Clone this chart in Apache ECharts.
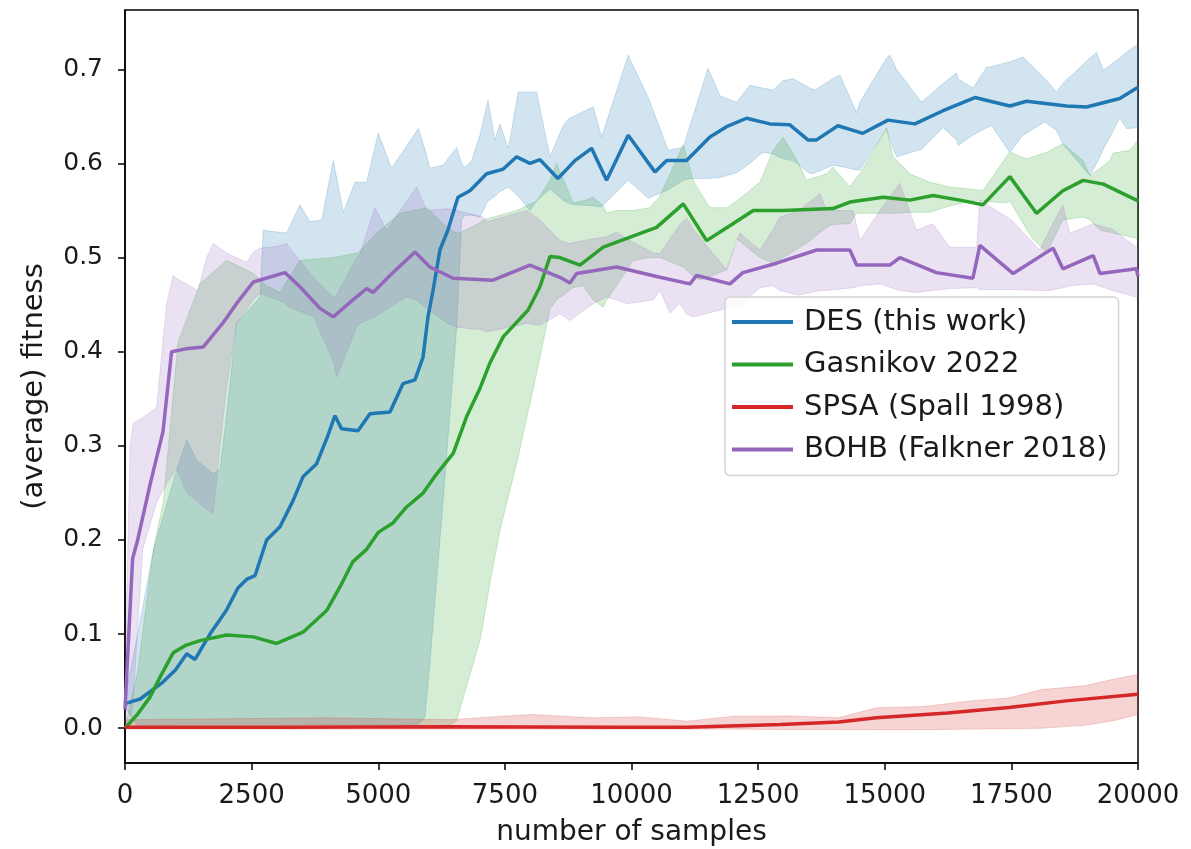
<!DOCTYPE html>
<html>
<head>
<meta charset="utf-8">
<script src="https://cdn.jsdelivr.net/npm/echarts@6/dist/echarts.min.js"></script>
<style>
  html, body { margin: 0; padding: 0; background: #fff; }
  #chart { width: 1191px; height: 849px; }
</style>
</head>
<body>
<div id="chart"></div>
<script>
// ---- axis ticks ----
const xTicks = [0, 2500, 5000, 7500, 10000, 12500, 15000, 17500, 20000];
const yTicks = [0.0, 0.1, 0.2, 0.3, 0.4, 0.5, 0.6, 0.7];

// ---- series names ----
const names = ['DES (this work)', 'Gasnikov 2022', 'SPSA (Spall 1998)', 'BOHB (Falkner 2018)'];

// ---- DES: mean curve ----
const desX = [0, 300, 750, 1000, 1218, 1382, 1678, 2000, 2230, 2400, 2566, 2797, 3060, 3320, 3514, 3784, 4000, 4145, 4277, 4600, 4836, 5231, 5488, 5725, 5883, 5982, 6081, 6218, 6380, 6574, 6810, 7140, 7469, 7732, 7995, 8192, 8547, 8883, 9212, 9508, 9935, 10462, 10693, 11088, 11548, 11877, 12272, 12732, 13127, 13483, 13654, 14075, 14569, 15063, 15595, 16150, 16780, 17470, 17800, 18590, 18985, 19640, 20000];
const desMean = [0.026, 0.031, 0.049, 0.062, 0.079, 0.073, 0.100, 0.125, 0.149, 0.158, 0.162, 0.200, 0.214, 0.242, 0.267, 0.281, 0.310, 0.332, 0.318, 0.316, 0.334, 0.336, 0.366, 0.370, 0.394, 0.437, 0.465, 0.508, 0.530, 0.564, 0.571, 0.589, 0.594, 0.607, 0.600, 0.604, 0.584, 0.603, 0.616, 0.582, 0.630, 0.591, 0.603, 0.603, 0.628, 0.639, 0.648, 0.642, 0.641, 0.625, 0.625, 0.640, 0.632, 0.646, 0.642, 0.656, 0.670, 0.661, 0.666, 0.661, 0.660, 0.669, 0.681];

// ---- DES: spread band ----
const desBandX = [0, 250, 560, 1020, 1218, 1415, 1744, 1875, 2000, 2200, 2665, 2730, 3191, 3455, 3652, 3883, 4112, 4310, 4540, 4770, 5000, 5264, 5790, 5922, 6020, 6280, 6548, 6646, 6712, 6843, 7008, 7166, 7304, 7403, 7568, 7765, 7995, 8127, 8390, 8650, 8752, 8850, 9245, 9410, 9935, 10330, 10725, 11022, 11153, 11511, 11745, 12075, 12338, 12594, 12798, 12995, 13193, 13522, 13621, 13976, 14115, 14444, 14509, 15036, 15101, 15233, 15727, 16150, 16418, 16444, 16740, 17010, 17108, 17470, 17730, 18160, 18392, 18516, 19049, 19182, 19315, 19640, 19773, 20000];
const desLow = [0.022, 0.003, 0.003, 0.004, 0.004, 0.004, 0.004, 0.004, 0.004, 0.004, 0.004, 0.004, 0.004, 0.004, 0.004, 0.004, 0.004, 0.004, 0.004, 0.004, 0.004, 0.004, 0.004, 0.012, 0.070, 0.242, 0.426, 0.540, 0.545, 0.545, 0.543, 0.560, 0.565, 0.570, 0.575, 0.565, 0.550, 0.560, 0.573, 0.561, 0.558, 0.556, 0.555, 0.554, 0.582, 0.563, 0.572, 0.582, 0.584, 0.584, 0.585, 0.590, 0.600, 0.612, 0.610, 0.605, 0.603, 0.589, 0.590, 0.598, 0.597, 0.593, 0.593, 0.637, 0.625, 0.607, 0.615, 0.638, 0.625, 0.619, 0.630, 0.638, 0.640, 0.612, 0.630, 0.644, 0.635, 0.621, 0.587, 0.600, 0.615, 0.648, 0.637, 0.638];
const desHigh = [0.032, 0.100, 0.189, 0.274, 0.306, 0.285, 0.270, 0.275, 0.330, 0.430, 0.458, 0.529, 0.526, 0.556, 0.538, 0.540, 0.603, 0.548, 0.580, 0.580, 0.632, 0.595, 0.637, 0.615, 0.595, 0.598, 0.617, 0.600, 0.596, 0.603, 0.630, 0.667, 0.625, 0.642, 0.616, 0.676, 0.676, 0.676, 0.607, 0.640, 0.647, 0.650, 0.660, 0.628, 0.715, 0.670, 0.614, 0.617, 0.640, 0.701, 0.672, 0.665, 0.683, 0.680, 0.678, 0.688, 0.690, 0.680, 0.678, 0.690, 0.694, 0.654, 0.665, 0.712, 0.715, 0.700, 0.665, 0.685, 0.696, 0.690, 0.680, 0.702, 0.703, 0.708, 0.713, 0.690, 0.676, 0.685, 0.712, 0.718, 0.699, 0.712, 0.718, 0.727];

// ---- Gasnikov 2022: mean curve ----
const gasX = [0, 250, 493, 700, 950, 1200, 1480, 2007, 2533, 2994, 3514, 3981, 4244, 4500, 4770, 5000, 5290, 5560, 5890, 6150, 6480, 6745, 7000, 7205, 7469, 7956, 8192, 8390, 8587, 8982, 9442, 10495, 11022, 11483, 12002, 12404, 12995, 13976, 14312, 14970, 15496, 15950, 16483, 16937, 17470, 17996, 18516, 18918, 19315, 19970, 20000];
const gasMean = [0.000, 0.015, 0.033, 0.055, 0.080, 0.088, 0.093, 0.099, 0.097, 0.090, 0.102, 0.125, 0.150, 0.177, 0.190, 0.208, 0.218, 0.235, 0.250, 0.270, 0.292, 0.331, 0.360, 0.388, 0.416, 0.444, 0.469, 0.501, 0.500, 0.492, 0.511, 0.532, 0.557, 0.518, 0.536, 0.550, 0.550, 0.552, 0.559, 0.564, 0.561, 0.566, 0.561, 0.556, 0.586, 0.547, 0.571, 0.582, 0.578, 0.561, 0.560];

// ---- Gasnikov 2022: spread band ----
const gasBandX = [0, 250, 560, 757, 1046, 1480, 2007, 2533, 2800, 3060, 3455, 4112, 4600, 4968, 5428, 5956, 6400, 6548, 6613, 7008, 7067, 7205, 7403, 7732, 8127, 8390, 8520, 8850, 9041, 9245, 9442, 9508, 9705, 10033, 10364, 10561, 11022, 11219, 11350, 11548, 11877, 12075, 12535, 12798, 12995, 13300, 13450, 13852, 13976, 14312, 14440, 14509, 15036, 15167, 15496, 15891, 16286, 16813, 16937, 17400, 17470, 17800, 17925, 18200, 18516, 18918, 19049, 19250, 19443, 19510, 19843, 20000];
const gasLow = [0.000, 0.001, 0.002, 0.002, 0.002, 0.002, 0.002, 0.002, 0.002, 0.002, 0.002, 0.002, 0.002, 0.002, 0.002, 0.002, 0.003, 0.008, 0.020, 0.093, 0.110, 0.154, 0.210, 0.281, 0.377, 0.445, 0.455, 0.468, 0.470, 0.455, 0.447, 0.455, 0.470, 0.497, 0.500, 0.500, 0.490, 0.480, 0.476, 0.480, 0.487, 0.520, 0.500, 0.494, 0.500, 0.510, 0.515, 0.532, 0.535, 0.536, 0.547, 0.547, 0.547, 0.547, 0.548, 0.548, 0.555, 0.561, 0.560, 0.558, 0.560, 0.530, 0.520, 0.505, 0.540, 0.543, 0.540, 0.529, 0.527, 0.526, 0.522, 0.520];
const gasHigh = [0.000, 0.060, 0.190, 0.240, 0.410, 0.472, 0.497, 0.483, 0.470, 0.463, 0.497, 0.500, 0.505, 0.526, 0.547, 0.553, 0.530, 0.526, 0.526, 0.537, 0.540, 0.542, 0.545, 0.550, 0.560, 0.582, 0.600, 0.558, 0.560, 0.564, 0.555, 0.547, 0.550, 0.550, 0.553, 0.565, 0.620, 0.582, 0.570, 0.553, 0.553, 0.560, 0.580, 0.614, 0.628, 0.600, 0.582, 0.589, 0.596, 0.575, 0.585, 0.589, 0.637, 0.607, 0.589, 0.580, 0.575, 0.572, 0.571, 0.607, 0.612, 0.605, 0.607, 0.612, 0.621, 0.603, 0.587, 0.595, 0.603, 0.611, 0.614, 0.625];

// ---- SPSA (Spall 1998): mean curve ----
const spsaX = [0, 3000, 6416, 9705, 11094, 12950, 14088, 14835, 16238, 17450, 18580, 20000];
const spsaMean = [0.001, 0.001, 0.0014, 0.001, 0.001, 0.004, 0.0066, 0.011, 0.016, 0.022, 0.029, 0.036];

// ---- SPSA (Spall 1998): spread band ----
const spsaBandX = [0, 2000, 4000, 6416, 8007, 9219, 10158, 11094, 12022, 13150, 14088, 14835, 15770, 16700, 17450, 18100, 18950, 19510, 20000];
const spsaLow = [-0.001, -0.001, -0.001, -0.001, -0.001, -0.001, -0.001, -0.001, -0.001, -0.0015, -0.0015, -0.0016, -0.0016, -0.001, -0.0005, 0.000, 0.003, 0.008, 0.0145];
const spsaHigh = [0.009, 0.010, 0.011, 0.009, 0.0145, 0.011, 0.012, 0.0074, 0.0127, 0.013, 0.011, 0.0216, 0.023, 0.029, 0.032, 0.041, 0.045, 0.052, 0.057];

// ---- BOHB (Falkner 2018): mean curve ----
const bohbX = [0, 150, 250, 500, 750, 920, 1200, 1546, 1940, 2200, 2533, 3158, 3455, 3850, 4112, 4500, 4770, 4900, 5290, 5725, 6020, 6480, 7265, 7995, 8587, 8784, 8916, 9705, 10561, 11153, 11285, 11943, 12200, 12864, 13654, 14312, 14444, 15101, 15298, 16020, 16740, 16878, 17535, 18325, 18516, 19116, 19250, 19970, 20000];
const bohbMean = [0.020, 0.180, 0.200, 0.260, 0.315, 0.400, 0.403, 0.405, 0.431, 0.451, 0.474, 0.484, 0.469, 0.446, 0.437, 0.455, 0.467, 0.463, 0.484, 0.506, 0.490, 0.478, 0.476, 0.492, 0.479, 0.473, 0.483, 0.490, 0.479, 0.472, 0.481, 0.472, 0.484, 0.494, 0.508, 0.508, 0.492, 0.492, 0.500, 0.484, 0.478, 0.513, 0.483, 0.510, 0.488, 0.502, 0.483, 0.488, 0.480];

// ---- BOHB (Falkner 2018): spread band ----
const bohbBandX = [0, 100, 160, 350, 625, 823, 950, 1020, 1218, 1440, 1612, 1744, 1875, 2000, 2200, 2400, 2533, 2665, 3020, 3191, 3257, 3717, 4112, 4178, 4573, 4638, 4935, 5165, 5560, 5758, 5956, 6377, 6548, 7067, 7140, 7930, 8192, 8587, 8784, 9245, 9508, 9705, 9903, 10428, 10561, 10758, 10956, 11088, 11219, 11877, 12140, 12535, 12798, 12930, 13300, 13720, 13852, 14378, 14509, 14904, 15298, 15627, 15950, 16286, 16813, 16878, 17500, 18063, 18260, 18516, 18655, 19116, 19500, 19970, 20000];
const bohbLow = [0.000, 0.000, 0.030, 0.190, 0.240, 0.260, 0.270, 0.276, 0.250, 0.240, 0.233, 0.228, 0.300, 0.360, 0.430, 0.445, 0.455, 0.462, 0.455, 0.450, 0.447, 0.437, 0.390, 0.373, 0.426, 0.430, 0.437, 0.445, 0.458, 0.455, 0.446, 0.430, 0.426, 0.423, 0.421, 0.430, 0.428, 0.440, 0.433, 0.451, 0.458, 0.455, 0.451, 0.455, 0.465, 0.441, 0.451, 0.440, 0.437, 0.446, 0.450, 0.468, 0.470, 0.465, 0.460, 0.465, 0.465, 0.468, 0.470, 0.472, 0.465, 0.463, 0.465, 0.467, 0.468, 0.466, 0.466, 0.465, 0.465, 0.468, 0.470, 0.472, 0.465, 0.458, 0.458];
const bohbHigh = [0.050, 0.300, 0.324, 0.330, 0.341, 0.451, 0.481, 0.478, 0.472, 0.465, 0.500, 0.515, 0.510, 0.505, 0.500, 0.495, 0.506, 0.510, 0.512, 0.515, 0.510, 0.479, 0.458, 0.460, 0.500, 0.504, 0.553, 0.529, 0.560, 0.575, 0.550, 0.552, 0.550, 0.543, 0.538, 0.550, 0.540, 0.518, 0.515, 0.520, 0.522, 0.527, 0.520, 0.505, 0.504, 0.520, 0.535, 0.542, 0.530, 0.487, 0.526, 0.508, 0.530, 0.543, 0.550, 0.568, 0.550, 0.550, 0.518, 0.550, 0.579, 0.529, 0.536, 0.511, 0.511, 0.561, 0.540, 0.508, 0.530, 0.556, 0.526, 0.536, 0.530, 0.511, 0.510];

// ---- colours (matplotlib tab10) ----
const colors = ['#1f77b4', '#2ca02c', '#d62728', '#9467bd'];
const fills  = ['rgba(31,119,180,0.2)', 'rgba(44,160,44,0.2)', 'rgba(214,39,40,0.2)', 'rgba(148,103,189,0.2)'];

const FONT = 'DejaVu Sans';

// Polygon between the lower and upper bound of a run, placed with the axis scales.
function bandSeries(id, xs, lo, hi, fill) {
  return {
    type: 'custom',
    id: id,
    name: id,
    silent: true,
    clip: true,
    z: 1,
    data: xs.map((x, i) => [x, lo[i], hi[i]]),
    encode: { x: 0, y: [1, 2] },
    renderItem: function (params, api) {
      if (params.dataIndex !== 0) return null;
      const pts = [];
      for (let i = 0; i < xs.length; i++) pts.push(api.coord([xs[i], hi[i]]));
      for (let i = xs.length - 1; i >= 0; i--) pts.push(api.coord([xs[i], lo[i]]));
      return {
        type: 'polygon',
        shape: { points: pts },
        style: { fill: fill, stroke: fill, lineWidth: 1 }
      };
    }
  };
}

function lineSeries(name, xs, ys, color, z) {
  return {
    type: 'line',
    name: name,
    data: xs.map((x, i) => [x, ys[i]]),
    showSymbol: false,
    symbol: 'none',
    smooth: false,
    z: z,
    lineStyle: { color: color, width: 3.5 },
    itemStyle: { color: color },
    emphasis: { disabled: true }
  };
}

const chart = echarts.init(document.getElementById('chart'), null, { renderer: 'canvas' });

chart.setOption({
  animation: false,
  backgroundColor: '#ffffff',
  grid: {
    left: 125, right: 53, top: 10, bottom: 86,
    containLabel: false,
    outerBoundsMode: 'none',
    show: true, borderColor: '#000', borderWidth: 1.5, backgroundColor: 'transparent'
  },
  xAxis: {
    type: 'value',
    min: 0, max: 20000, interval: 2500,
    name: 'number of samples',
    nameLocation: 'middle',
    nameGap: 56,
    nameTextStyle: { fontFamily: FONT, fontSize: 28, color: '#1a1a1a' },
    axisLine: { show: true, onZero: false, lineStyle: { color: '#000', width: 1.5 } },
    axisTick: { show: true, inside: false, length: 7, lineStyle: { color: '#000', width: 1.5 } },
    axisLabel: { fontFamily: FONT, fontSize: 26, color: '#1a1a1a', margin: 20,
      formatter: v => String(v) },
    splitLine: { show: false }
  },
  yAxis: {
    type: 'value',
    min: -0.037, max: 0.763,
    name: '(average) fitness',
    nameLocation: 'middle',
    nameGap: 76,
    nameRotate: 90,
    nameTextStyle: { fontFamily: FONT, fontSize: 29, color: '#1a1a1a' },
    axisLine: { show: true, onZero: false, lineStyle: { color: '#000', width: 1.5 } },
    axisTick: { show: true, inside: false, length: 7, customValues: yTicks, lineStyle: { color: '#000', width: 1.5 } },
    axisLabel: { fontFamily: FONT, fontSize: 25, color: '#1a1a1a', margin: 22,
      customValues: yTicks, formatter: v => Number(v).toFixed(1) },
    splitLine: { show: false }
  },
  legend: {
    left: 725, top: 297,
    orient: 'vertical',
    data: names.map(n => ({ name: n, icon: 'rect' })),
    itemWidth: 61, itemHeight: 4, itemGap: 12.5,
    padding: [10, 11, 11, 7],
    backgroundColor: 'rgba(255,255,255,0.8)',
    borderColor: '#d4d4d4', borderWidth: 1.5, borderRadius: 5,
    textStyle: { fontFamily: FONT, fontSize: 29, color: '#1a1a1a', lineHeight: 30, padding: [0, 0, 0, 6] },
    selectedMode: false,
    z: 10
  },
  series: [
    bandSeries('band-des', desBandX, desLow, desHigh, fills[0]),
    bandSeries('band-gas', gasBandX, gasLow, gasHigh, fills[1]),
    bandSeries('band-spsa', spsaBandX, spsaLow, spsaHigh, fills[2]),
    bandSeries('band-bohb', bohbBandX, bohbLow, bohbHigh, fills[3]),
    lineSeries(names[0], desX, desMean, colors[0], 3),
    lineSeries(names[1], gasX, gasMean, colors[1], 4),
    lineSeries(names[2], spsaX, spsaMean, colors[2], 5),
    lineSeries(names[3], bohbX, bohbMean, colors[3], 6)
  ]
});
</script>
</body>
</html>
